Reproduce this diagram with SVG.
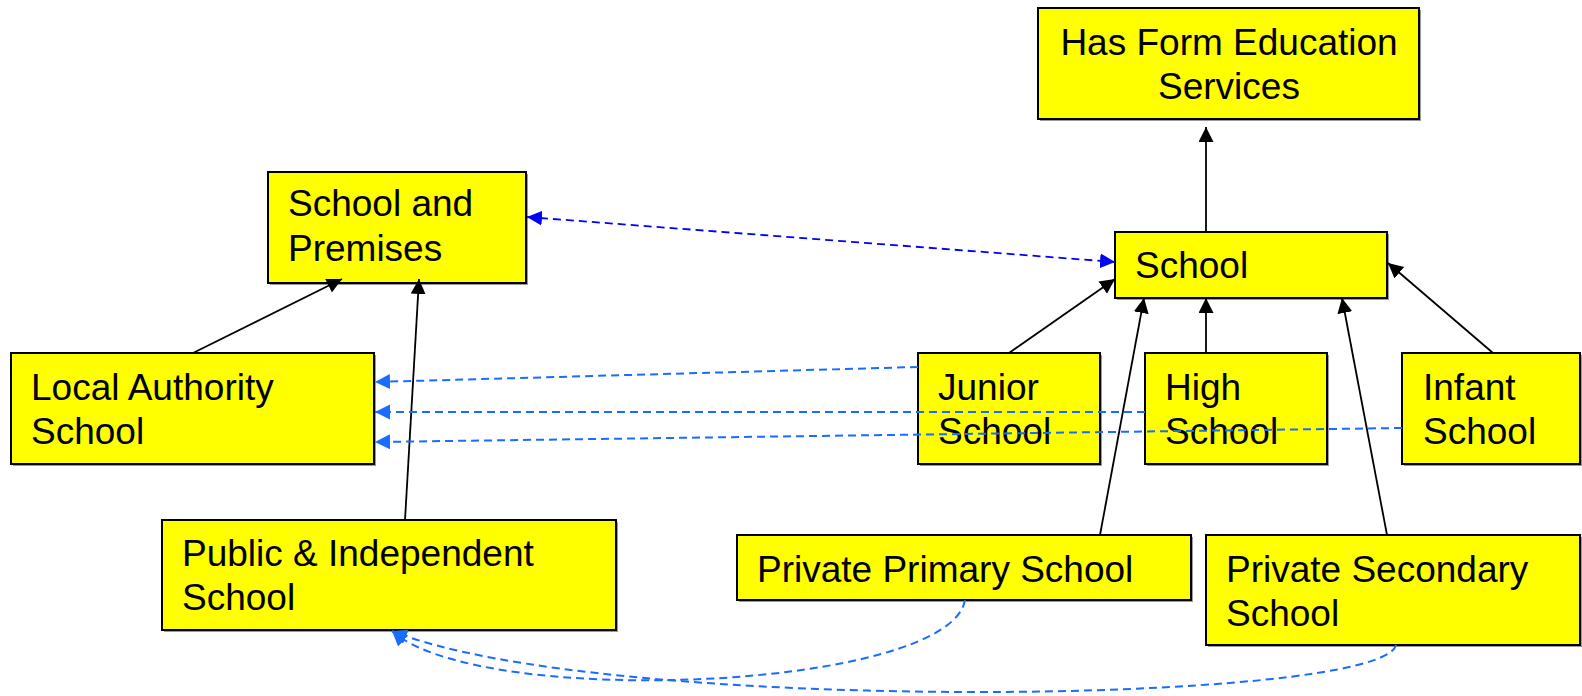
<svg xmlns="http://www.w3.org/2000/svg" width="1582" height="696" viewBox="0 0 1582 696">
<style>
.box{fill:#ffff00;stroke:#000;stroke-width:2}
.sh{fill:#9a9a9a}
.t{font-family:"Liberation Sans",Arial,Helvetica,sans-serif;font-size:37px;fill:#000}
.c{text-anchor:middle}
.solid{fill:none;stroke:#000;stroke-width:1.8}
.dblue{fill:none;stroke:#0000ff;stroke-width:1.8;stroke-dasharray:8 5}
.dlight{fill:none;stroke:#1a6cff;stroke-width:2;stroke-dasharray:8 5}
</style>
<defs>
<marker id="ab" markerUnits="userSpaceOnUse" markerWidth="16" markerHeight="16" refX="15" refY="7.5" orient="auto"><path d="M0,0 L15,7.5 L0,15 z" fill="#000"/></marker>
<marker id="au" markerUnits="userSpaceOnUse" markerWidth="16" markerHeight="16" refX="15" refY="7.5" orient="auto-start-reverse"><path d="M0,0 L15,7.5 L0,15 z" fill="#0000ff"/></marker>
<marker id="al" markerUnits="userSpaceOnUse" markerWidth="16" markerHeight="16" refX="15" refY="7.5" orient="auto"><path d="M0,0 L15,7.5 L0,15 z" fill="#1a6cff"/></marker>
</defs>
<rect width="1582" height="696" fill="#fff"/>

<g id="hfes"><rect class="sh" x="1040" y="10" width="381" height="111"/><rect class="box" x="1038" y="8" width="381" height="111"/><text class="t c" x="1229" y="55">Has Form Education</text><text class="t c" x="1229" y="99">Services</text></g>
<g id="sap"><rect class="sh" x="270" y="174" width="258" height="111"/><rect class="box" x="268" y="172" width="258" height="111"/><text class="t" x="288" y="216">School and</text><text class="t" x="288" y="261">Premises</text></g>
<g id="school"><rect class="sh" x="1117" y="234" width="272" height="66"/><rect class="box" x="1115" y="232" width="272" height="66"/><text class="t" x="1135" y="278">School</text></g>
<g id="las"><rect class="sh" x="13" y="355" width="363" height="111"/><rect class="box" x="11" y="353" width="363" height="111"/><text class="t" x="31" y="400">Local Authority</text><text class="t" x="31" y="444">School</text></g>
<g id="junior"><rect class="sh" x="920" y="355" width="182" height="111"/><rect class="box" x="918" y="353" width="182" height="111"/><text class="t" x="938" y="400">Junior</text><text class="t" x="938" y="444">School</text></g>
<g id="high"><rect class="sh" x="1147" y="355" width="182" height="111"/><rect class="box" x="1145" y="353" width="182" height="111"/><text class="t" x="1165" y="400">High</text><text class="t" x="1165" y="444">School</text></g>
<g id="infant"><rect class="sh" x="1404" y="355" width="178" height="111"/><rect class="box" x="1402" y="353" width="178" height="111"/><text class="t" x="1423" y="400">Infant</text><text class="t" x="1423" y="444">School</text></g>
<g id="public"><rect class="sh" x="164" y="522" width="454" height="110"/><rect class="box" x="162" y="520" width="454" height="110"/><text class="t" x="182" y="566">Public &amp; Independent</text><text class="t" x="182" y="610">School</text></g>
<g id="pps"><rect class="sh" x="739" y="537" width="454" height="65"/><rect class="box" x="737" y="535" width="454" height="65"/><text class="t" x="757" y="582">Private Primary School</text></g>
<g id="pss"><rect class="sh" x="1208" y="537" width="374" height="110"/><rect class="box" x="1206" y="535" width="374" height="110"/><text class="t" x="1226" y="582">Private Secondary</text><text class="t" x="1226" y="626">School</text></g>

<g id="connectors">
<line class="solid" x1="1206" y1="232" x2="1206" y2="127" marker-end="url(#ab)"/>
<line class="dblue" x1="527" y1="217" x2="1115" y2="262" marker-start="url(#au)" marker-end="url(#au)"/>
<line class="solid" x1="193" y1="353" x2="342" y2="279" marker-end="url(#ab)"/>
<line class="solid" x1="405" y1="520" x2="419" y2="279" marker-end="url(#ab)"/>
<line class="solid" x1="1009" y1="353" x2="1115" y2="279" marker-end="url(#ab)"/>
<line class="solid" x1="1206" y1="353" x2="1206" y2="298" marker-end="url(#ab)"/>
<line class="solid" x1="1100" y1="535" x2="1144" y2="298" marker-end="url(#ab)"/>
<line class="solid" x1="1387" y1="535" x2="1342" y2="298" marker-end="url(#ab)"/>
<line class="solid" x1="1493" y1="353" x2="1388" y2="263" marker-end="url(#ab)"/>
<line class="dlight" x1="918" y1="367" x2="375" y2="382" marker-end="url(#al)"/>
<line class="dlight" x1="1145" y1="412" x2="375" y2="412" marker-end="url(#al)"/>
<line class="dlight" x1="1402" y1="428" x2="375" y2="442" marker-end="url(#al)"/>
<path class="dlight" d="M965,600 C950,690 480,710 392,631" marker-end="url(#al)"/>
<path class="dlight" d="M1396,645 C1382,705 600,715 392,631" marker-end="url(#al)"/>
</g>
</svg>
